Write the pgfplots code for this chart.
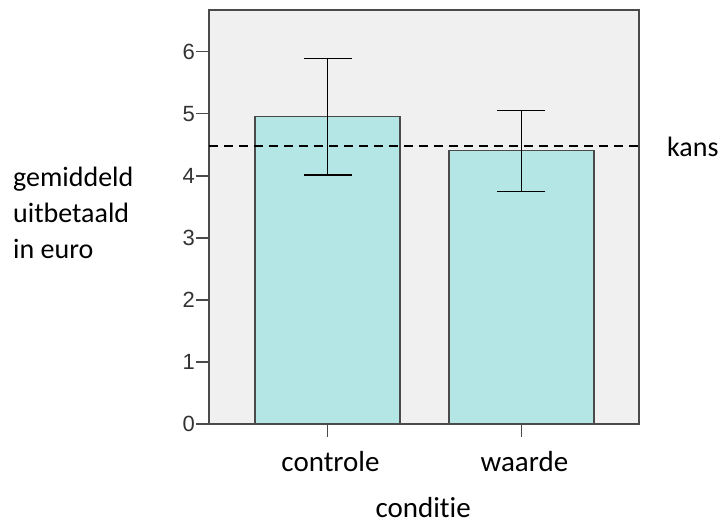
\documentclass[border=0pt]{standalone}
\usepackage{pgfplots}
\pgfplotsset{compat=1.18}
\usepackage{fontspec}
\setmainfont[Ligatures=NoCommon]{Carlito}
\newfontfamily\arial{Liberation Sans}
\definecolor{bg}{HTML}{F0F0F0}
\definecolor{barfill}{HTML}{B5E6E6}
\definecolor{axgray}{HTML}{4A4A4A}
\definecolor{ticktext}{HTML}{333333}
\begin{document}
\begin{tikzpicture}
\useasboundingbox (-209pt,-100pt) rectangle (512pt,424pt);
\begin{axis}[
 at={(0,0)}, anchor=south west,
 scale only axis, width=430pt, height=414pt,
 xmin=-0.611, xmax=1.606, ymin=0, ymax=6.67,
 axis background/.style={fill=bg},
 axis line style={axgray, line width=1.6pt},
 xtick={0,1}, xticklabels={controle,waarde},
 ytick={0,1,2,3,4,5,6},
 tick align=outside,
 xtick pos=bottom, ytick pos=left,
 major tick length=13pt,
 tick style={axgray, line width=1.6pt},
 /pgf/number format/assume math mode=true,
 yticklabel style={font=\arial\fontsize{22}{24}\selectfont, text=ticktext, inner sep=1pt},
 xticklabel style={font=\fontsize{29}{32}\selectfont, black, yshift=-11pt, xshift=3pt},
 clip=false,
]
\addplot[ybar, bar width=145pt, fill=barfill, draw=axgray, line width=1.2pt,
  error bars/.cd, y dir=both, y explicit, error mark=|, error bar style={black, line width=1.4pt},
  error mark options={mark size=24pt, line width=1.4pt, black}]
  coordinates {(0,4.95) +- (0,0.94) (1,4.40) +- (0,0.655)};
\addplot[black, line width=1.8pt, dash pattern=on 9pt off 6pt] coordinates {(-0.611,4.48) (1.606,4.48)};
\node[anchor=base west, inner sep=0pt, font=\fontsize{28}{32}\selectfont] at (axis description cs:1.065,0.6457) {kans};
\node[anchor=base, inner sep=0pt, font=\fontsize{29}{32}\selectfont] at (axis description cs:0.498,-0.2270) {conditie};
\node[anchor=base west, inner sep=0pt, font=\fontsize{28}{32}\selectfont] at (axis description cs:-0.4558,0.5732) {gemiddeld};
\node[anchor=base west, inner sep=0pt, font=\fontsize{28}{32}\selectfont] at (axis description cs:-0.4558,0.4862) {uitbetaald};
\node[anchor=base west, inner sep=0pt, font=\fontsize{28}{32}\selectfont] at (axis description cs:-0.4558,0.4002) {in euro};
\end{axis}
\end{tikzpicture}
\end{document}
